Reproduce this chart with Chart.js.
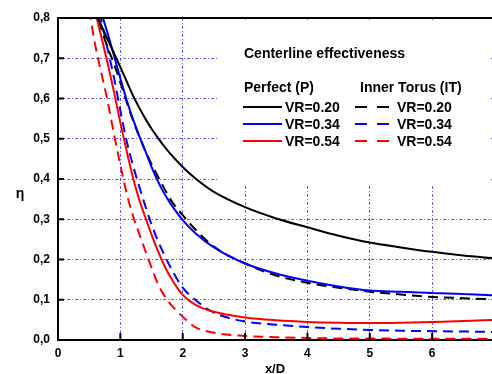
<!DOCTYPE html>
<html>
<head>
<meta charset="utf-8">
<script src="https://cdn.jsdelivr.net/npm/chart.js@4/dist/chart.umd.min.js"></script>
<style>
  html, body { margin: 0; padding: 0; background: #fff; }
  #wrap { width: 492px; height: 374px; }
</style>
</head>
<body>
<div id="wrap"><canvas id="chart" width="492" height="374"></canvas></div>
<script>
// Data
const xValues = [0.5, 0.6, 0.7, 0.8, 0.9, 1.0, 1.1, 1.2, 1.3, 1.4, 1.5, 1.6, 1.7, 1.8, 2.0, 2.2, 2.5, 3, 3.5, 4, 4.5, 5, 5.5, 6, 6.5, 7];
const perfect020 = [0.86, 0.815, 0.78, 0.745, 0.712, 0.678, 0.643, 0.608, 0.578, 0.55, 0.525, 0.503, 0.482, 0.463, 0.43, 0.402, 0.368, 0.33, 0.302, 0.28, 0.259, 0.242, 0.23, 0.219, 0.21, 0.203];
const perfect034 = [0.93, 0.86, 0.81, 0.76, 0.705, 0.65, 0.597, 0.55, 0.508, 0.47, 0.43, 0.395, 0.365, 0.34, 0.298, 0.266, 0.23, 0.19, 0.165, 0.147, 0.133, 0.123, 0.12, 0.117, 0.114, 0.111];
const perfect054 = [0.9, 0.815, 0.75, 0.685, 0.615, 0.54, 0.47, 0.405, 0.35, 0.305, 0.262, 0.222, 0.187, 0.157, 0.112, 0.088, 0.07, 0.056, 0.049, 0.045, 0.043, 0.042, 0.043, 0.045, 0.047, 0.05];
const torus020 = [0.87, 0.82, 0.77, 0.725, 0.685, 0.64, 0.592, 0.547, 0.507, 0.47, 0.437, 0.407, 0.378, 0.35, 0.31, 0.275, 0.232, 0.19, 0.16, 0.142, 0.13, 0.12, 0.113, 0.107, 0.104, 0.101];
const torus034 = [0.93, 0.86, 0.79, 0.72, 0.65, 0.57, 0.495, 0.435, 0.383, 0.333, 0.287, 0.247, 0.213, 0.182, 0.13, 0.1, 0.068, 0.046, 0.038, 0.032, 0.028, 0.025, 0.023, 0.022, 0.021, 0.02];
const torus054 = [0.82, 0.73, 0.66, 0.59, 0.51, 0.435, 0.365, 0.31, 0.265, 0.222, 0.18, 0.14, 0.112, 0.09, 0.058, 0.032, 0.018, 0.01, 0.007, 0.005, 0.004, 0.004, 0.003, 0.003, 0.003, 0.003];

const vrLabels = ["VR=0.20", "VR=0.34", "VR=0.54"];
const seriesColors = ["#000000", "#0000ff", "#ff0000"];

const FONT = "'Liberation Sans', Arial, sans-serif";

const toPoints = (ys) => xValues.map((x, i) => ({x: x, y: ys[i]}));

const makeSet = (label, ys, color, dashed) => ({
    label: label,
    data: toPoints(ys),
    borderColor: color,
    borderWidth: 2,
    borderDash: dashed ? [10, 6] : [],
    pointRadius: 0,
    cubicInterpolationMode: "monotone",
    fill: false,
    clip: 0
});

// Plugin: legend box, inner ticks, top frame, eta label
const decorations = {
    id: "decorations",
    beforeDatasetsDraw(chart) {
        const ctx = chart.ctx;
        ctx.save();
        ctx.fillStyle = "#fff";
        ctx.fillRect(218, 20, 271, 165);
        ctx.restore();
    },
    afterDraw(chart) {
        const ctx = chart.ctx;
        const area = chart.chartArea;
        const xs = chart.scales.x;
        const ys = chart.scales.y;
        ctx.save();
        ctx.strokeStyle = "#000";
        ctx.lineWidth = 2;
        // top frame
        ctx.beginPath();
        ctx.moveTo(area.left - 1, area.top);
        ctx.lineTo(area.right, area.top);
        ctx.stroke();
        // inner ticks
        ys.ticks.forEach(t => {
            const y = ys.getPixelForValue(t.value);
            ctx.beginPath();
            ctx.moveTo(area.left, y);
            ctx.lineTo(area.left + 6, y);
            ctx.stroke();
        });
        xs.ticks.forEach(t => {
            const x = xs.getPixelForValue(t.value);
            ctx.beginPath();
            ctx.moveTo(x, area.bottom);
            ctx.lineTo(x, area.bottom - 7);
            ctx.stroke();
        });

        // eta
        ctx.fillStyle = "#000";
        ctx.font = "bold 14px " + FONT;
        ctx.textAlign = "center";
        ctx.textBaseline = "middle";
        ctx.fillText("η", 20, 194);

        // legend
        ctx.textAlign = "left";
        ctx.font = "bold 14px " + FONT;
        ctx.fillText("Centerline effectiveness", 244, 54);
        ctx.fillText("Perfect (P)", 244, 88);
        ctx.fillText("Inner Torus (IT)", 360, 88);
        const rows = [107, 124, 141];
        rows.forEach((ry, i) => {
            ctx.strokeStyle = seriesColors[i];
            ctx.lineWidth = 2;
            ctx.setLineDash([]);
            ctx.beginPath();
            ctx.moveTo(243, ry);
            ctx.lineTo(282, ry);
            ctx.stroke();
            ctx.beginPath();
            ctx.moveTo(355, ry);
            ctx.lineTo(367, ry);
            ctx.moveTo(377, ry);
            ctx.lineTo(389, ry);
            ctx.stroke();
            ctx.fillText(vrLabels[i], 285, ry + 1);
            ctx.fillText(vrLabels[i], 397, ry + 1);
        });
        ctx.restore();
    }
};

new Chart(document.getElementById("chart"), {
    type: "line",
    data: {
        datasets: [
            makeSet("P " + vrLabels[0], perfect020, seriesColors[0], false),
            makeSet("P " + vrLabels[1], perfect034, seriesColors[1], false),
            makeSet("P " + vrLabels[2], perfect054, seriesColors[2], false),
            makeSet("IT " + vrLabels[0], torus020, seriesColors[0], true),
            makeSet("IT " + vrLabels[1], torus034, seriesColors[1], true),
            makeSet("IT " + vrLabels[2], torus054, seriesColors[2], true)
        ]
    },
    options: {
        responsive: false,
        animation: false,
        layout: { padding: { left: 0, top: 18, right: 0, bottom: 0 } },
        plugins: {
            legend: { display: false },
            tooltip: { enabled: false }
        },
        scales: {
            x: {
                type: "linear",
                min: 0,
                max: 6.96,
                afterBuildTicks: (scale) => {
                    scale.ticks = scale.ticks.filter(t => Number.isInteger(t.value));
                },
                afterFit: (scale) => { scale.height = 34; },
                ticks: {
                    stepSize: 1,
                    padding: 6,
                    color: "#000",
                    font: { family: FONT, size: 12, weight: "bold" }
                },
                grid: { color: "rgba(40,40,255,0.75)", lineWidth: 1, drawTicks: false },
                border: { display: true, color: "#000", width: 2, dash: [3, 2, 1, 2] },
                title: {
                    display: true,
                    text: "x/D",
                    color: "#000",
                    padding: { top: 0, bottom: -3 },
                    font: { family: FONT, size: 13, weight: "bold" }
                }
            },
            y: {
                min: 0,
                max: 0.8,
                afterFit: (scale) => { scale.width = 58; },
                ticks: {
                    stepSize: 0.1,
                    padding: 8,
                    color: "#000",
                    font: { family: FONT, size: 12, weight: "bold" },
                    callback: (v) => v.toFixed(1).replace(".", ",")
                },
                grid: { color: "rgba(40,40,255,0.75)", lineWidth: 1, drawTicks: false },
                border: { display: true, color: "#000", width: 2, dash: [3, 2, 1, 2] }
            }
        }
    },
    plugins: [decorations]
});
</script>
</body>
</html>
